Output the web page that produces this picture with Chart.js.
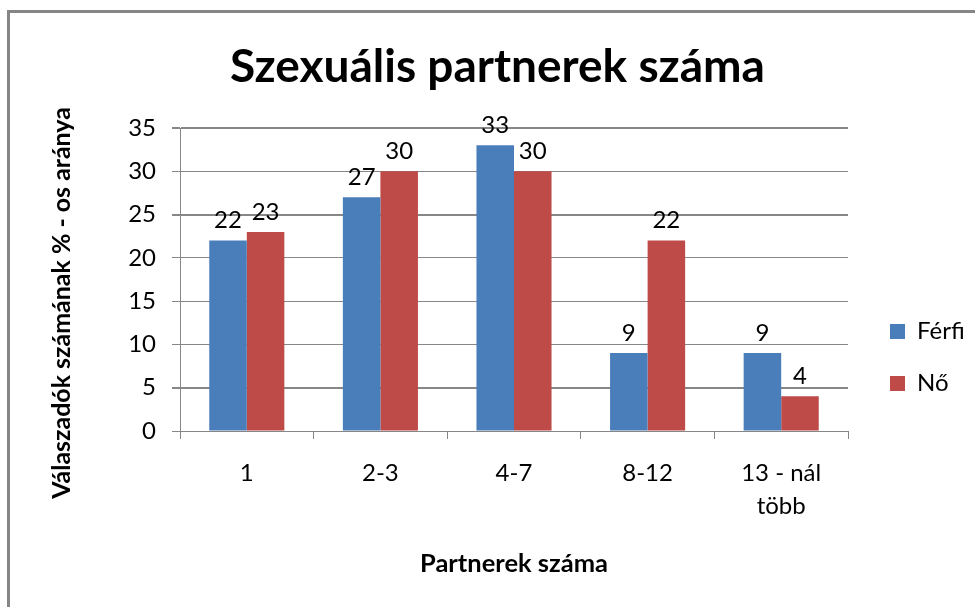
<!DOCTYPE html>
<html lang="hu">
<head>
<meta charset="utf-8">
<title>Szexuális partnerek száma</title>
<script src="https://cdn.jsdelivr.net/npm/chart.js@4.4.1/dist/chart.umd.min.js"></script>
<style>
  html, body { margin: 0; padding: 0; background: #fff; }
  #wrap { position: relative; width: 975px; height: 607px; overflow: hidden; }
  #frame { position: absolute; left: 7px; top: 10px; width: 2000px; height: 2000px;
           border-left: 3px solid #868686; border-top: 3px solid #868686; pointer-events: none; }
</style>
</head>
<body>
<div id="wrap">
  <canvas id="chart" width="975" height="607"></canvas>
  <div id="frame"></div>
</div>
<script>
'use strict';
//data
var categories = ['1', '2-3', '4-7', '8-12', ['13 - nál', 'több']];
var seriesNames = ['Férfi', 'Nő'];
var ferfiValues = [22, 27, 33, 9, 9];
var noValues = [23, 30, 30, 22, 4];
var yMin = 0;
var yMax = 35;
var yStep = 5;

var chartTitle = 'Szexuális partnerek száma';
var xAxisTitle = 'Partnerek száma';
var yAxisTitle = 'Válaszadók számának % - os aránya';

//fonts and colours
var FAMILY = "Lato, 'Liberation Sans', sans-serif";
var GRID = '#878787';
var BLUE = '#4A7EBB';
var RED = '#BE4B48';

//plot box wanted: left 180, right 848, top 128, bottom 431
var LEGEND_PAD = 28;
var LEGEND_BOX = 15;
var LEGEND_FONT = 24;

var measureCtx = document.createElement('canvas').getContext('2d');
function textWidth(text, font){
  measureCtx.font = font;
  return measureCtx.measureText(text).width;
}
//font size that makes a text as wide as in the picture
function fitSize(text, weight, target){
  return 100 * target / textWidth(text, weight + ' 100px ' + FAMILY);
}

var titleSize = fitSize(chartTitle, 'bold', 535);
var titleLH = titleSize * 1.2;
var titlePadTop = 67 - titleLH / 2;
var titlePadBottom = 128 - titlePadTop - titleLH;
var yTitleSize = fitSize(yAxisTitle, 'bold', 392);
var xTitleSize = fitSize(xAxisTitle, 'bold', 188);

//legend width the way chart.js works it out (it adds 10 for a column legend)
var legendTextW = Math.max.apply(null, seriesNames.map(function(n){
  return textWidth(n, LEGEND_FONT + 'px ' + FAMILY);
}));
var legendW = LEGEND_PAD + LEGEND_BOX + LEGEND_FONT / 2 + legendTextW + 10;
var padRight = Math.max(0, 975 - 848 - legendW);
var padLeft = padRight + 20;

//value labels above the bars
var barLabels = {
  id: 'barLabels',
  afterDatasetsDraw: function(chart){
    var ctx = chart.ctx;
    ctx.save();
    ctx.font = '24px ' + FAMILY;
    ctx.fillStyle = '#000';
    ctx.textAlign = 'center';
    ctx.textBaseline = 'middle';
    chart.data.datasets.forEach(function(ds, i){
      chart.getDatasetMeta(i).data.forEach(function(bar, j){
        ctx.fillText(String(ds.data[j]), bar.x, bar.y - 20);
      });
    });
    ctx.restore();
  }
};

//rotated y title, centred lower than the plot like excel does
var yTitle = {
  id: 'yTitle',
  afterDraw: function(chart){
    var ctx = chart.ctx;
    ctx.save();
    ctx.translate(62, 303);
    ctx.rotate(-Math.PI / 2);
    ctx.font = 'bold ' + yTitleSize + 'px ' + FAMILY;
    ctx.fillStyle = '#000';
    ctx.textAlign = 'center';
    ctx.textBaseline = 'middle';
    ctx.fillText(yAxisTitle, 0, 0);
    ctx.restore();
  }
};

//move legend block down/right a little
var legendNudge = {
  id: 'legendNudge',
  afterLayout: function(chart){
    var lg = chart.legend;
    lg.left += 14; lg.right += 14;
    lg.top += 54; lg.bottom += 54;
  }
};

var ctx = document.getElementById('chart').getContext('2d');

new Chart(ctx, {
  type: 'bar',
  data: {
    labels: categories,
    datasets: [
      { label: seriesNames[0], data: ferfiValues, backgroundColor: BLUE, borderWidth: 0 },
      { label: seriesNames[1], data: noValues, backgroundColor: RED, borderWidth: 0 }
    ]
  },
  options: {
    responsive: false,
    animation: false,
    devicePixelRatio: 1,
    layout: { padding: { left: padLeft, right: padRight, top: 0, bottom: 0 } },
    datasets: { bar: { categoryPercentage: 0.562, barPercentage: 1 } },
    plugins: {
      title: {
        display: true,
        text: chartTitle,
        color: '#000',
        font: { family: FAMILY, size: titleSize, weight: 'bold', lineHeight: 1.2 },
        padding: { top: titlePadTop, bottom: titlePadBottom }
      },
      legend: {
        display: true,
        position: 'right',
        align: 'center',
        labels: {
          color: '#000',
          font: { family: FAMILY, size: LEGEND_FONT },
          boxWidth: LEGEND_BOX,
          boxHeight: LEGEND_BOX,
          padding: LEGEND_PAD
        }
      },
      tooltip: { enabled: false }
    },
    scales: {
      x: {
        grid: { offset: true, drawOnChartArea: false, drawTicks: true, tickLength: 8, color: GRID },
        border: { color: GRID, width: 1 },
        ticks: {
          color: '#000',
          font: { family: FAMILY, size: 24, lineHeight: 1.375 },
          padding: 18,
          maxRotation: 0,
          minRotation: 0,
          autoSkip: false
        },
        title: {
          display: true,
          text: xAxisTitle,
          color: '#000',
          font: { family: FAMILY, size: xTitleSize, weight: 'bold', lineHeight: 1.2 },
          padding: { top: 0, bottom: 28 }
        },
        afterFit: function(scale){ scale.height = 607 - 431; }
      },
      y: {
        min: yMin,
        max: yMax,
        grid: {
          color: GRID,
          tickLength: 8,
          lineWidth: function(c){ return [5, 25, 35].indexOf(c.tick.value) >= 0 ? 2 : 1; }
        },
        border: { color: GRID, width: 1 },
        ticks: {
          stepSize: yStep,
          color: '#000',
          font: { family: FAMILY, size: 24 },
          padding: 16
        },
        afterFit: function(scale){ scale.width = 180 - padLeft; }
      }
    }
  },
  plugins: [barLabels, yTitle, legendNudge]
});
</script>
</body>
</html>
